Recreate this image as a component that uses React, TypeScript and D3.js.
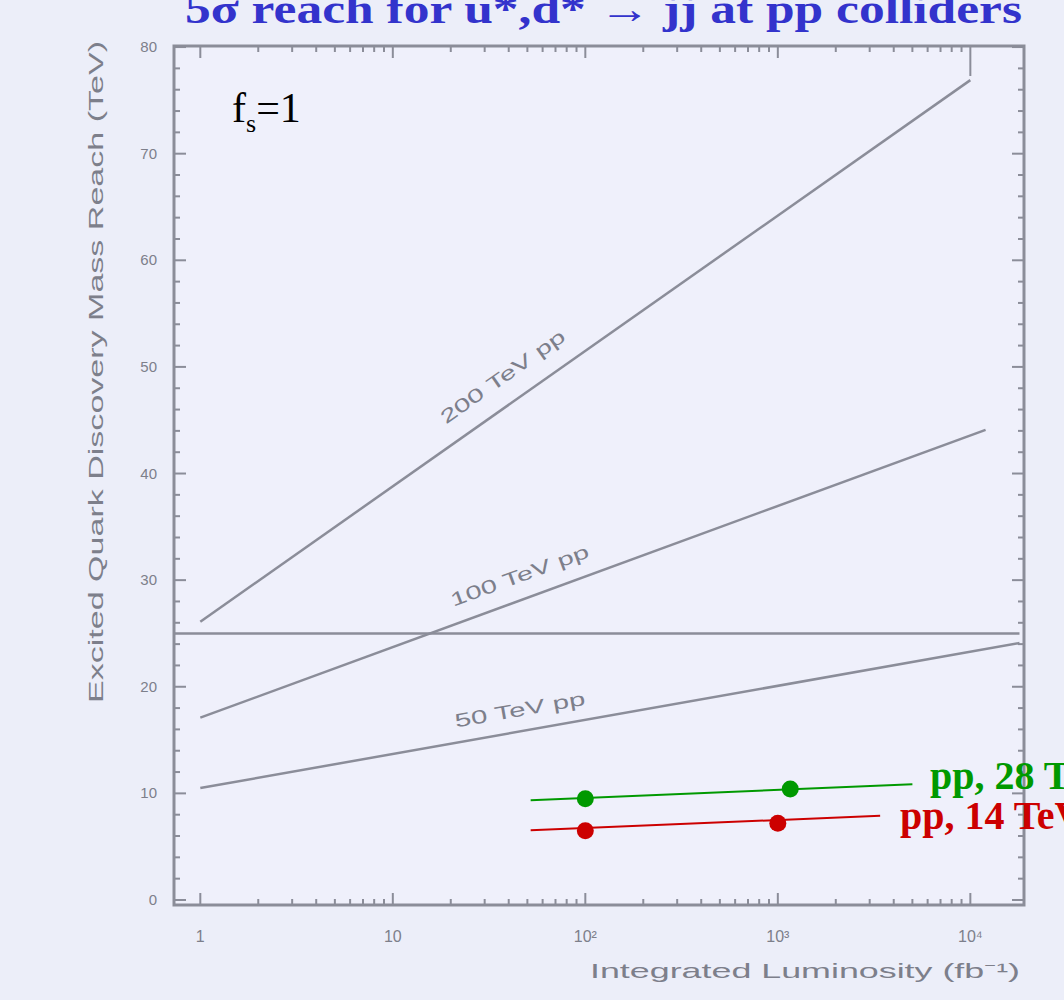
import React, { useEffect, useRef } from 'react';
import * as d3 from 'd3';

// reach lines (luminosity in fb^-1, mass reach in TeV)
const lumi200 = [1, 10000];
const reach200 = [26.1, 76.9];
const lumi100 = [1, 12000];
const reach100 = [17.1, 44.1];
const lumi50 = [1, 18000];
const reach50 = [10.5, 24.1];
const lumiFlat = [0.73, 18000];
const reachFlat = [25.0, 25.0];

const lumi28Line = [52, 5000];
const reach28Line = [9.35, 10.85];
const lumi28Pts = [100, 1160];
const reach28Pts = [9.5, 10.4];

const lumi14Line = [52, 3400];
const reach14Line = [6.55, 7.9];
const lumi14Pts = [100, 1000];
const reach14Pts = [6.5, 7.2];

const xTicks = [1, 10, 100, 1000, 10000];
const xTickLabels = ['1', '10', '10²', '10³', '10⁴'];
const yTicks = [0, 10, 20, 30, 40, 50, 60, 70, 80];

const W = 1064;
const H = 1000;
const bg = '#eceef9';
const gray = '#8b8d99';
const textGray = '#7d7f8b';

function App() {
  const ref = useRef(null);

  useEffect(() => {
    document.body.style.margin = '0';
    const svg = d3.select(ref.current);
    svg.selectAll('*').remove();

    const left = 174, right = 1024, top = 46, bottom = 905;
    const x = d3.scaleLog().domain([0.73, 19000]).range([left, right]);
    const y = d3.scaleLinear().domain([-0.47, 80.1]).range([bottom, top]);

    svg.append('rect').attr('width', W).attr('height', H).attr('fill', bg);

    // frame
    svg.append('rect')
      .attr('x', left).attr('y', top)
      .attr('width', right - left).attr('height', bottom - top)
      .attr('fill', '#eff0fb')
      .attr('stroke', gray).attr('stroke-width', 3);

    // y ticks, left and right, inward
    const g = svg.append('g').attr('stroke', gray);
    d3.range(0, 81, 2).forEach(v => {
      const len = v % 10 === 0 ? 12 : 6;
      g.append('line').attr('x1', left).attr('x2', left + len)
        .attr('y1', y(v)).attr('y2', y(v)).attr('stroke-width', 2);
      g.append('line').attr('x1', right).attr('x2', right - len)
        .attr('y1', y(v)).attr('y2', y(v)).attr('stroke-width', 2);
    });
    // x ticks, top and bottom
    [1, 10, 100, 1000].forEach(d => {
      d3.range(1, 10).forEach(m => {
        const v = d * m;
        const len = m === 1 ? 12 : 6;
        g.append('line').attr('x1', x(v)).attr('x2', x(v))
          .attr('y1', bottom).attr('y2', bottom - len).attr('stroke-width', 2);
        g.append('line').attr('x1', x(v)).attr('x2', x(v))
          .attr('y1', top).attr('y2', top + len).attr('stroke-width', 2);
      });
    });
    g.append('line').attr('x1', x(10000)).attr('x2', x(10000))
      .attr('y1', bottom).attr('y2', bottom - 12).attr('stroke-width', 2);
    g.append('line').attr('x1', x(10000)).attr('x2', x(10000))
      .attr('y1', top).attr('y2', top + 30).attr('stroke-width', 2);

    // tick labels
    svg.append('g').selectAll('text').data(yTicks).enter().append('text')
      .attr('x', 157).attr('y', d => y(d) + 5)
      .attr('text-anchor', 'end')
      .attr('font-family', 'Liberation Sans')
      .attr('font-size', 15).attr('fill', textGray)
      .text(d => d);
    svg.append('g').selectAll('text').data(xTicks).enter().append('text')
      .attr('x', d => x(d)).attr('y', 942)
      .attr('text-anchor', 'middle')
      .attr('font-family', 'Liberation Sans')
      .attr('font-size', 16).attr('fill', textGray)
      .text((d, i) => xTickLabels[i]);

    // axis titles
    svg.append('text')
      .attr('transform', 'translate(103,372) rotate(-90)')
      .attr('text-anchor', 'middle')
      .attr('font-family', 'Liberation Sans').attr('font-size', 21)
      .attr('fill', textGray)
      .attr('textLength', 662).attr('lengthAdjust', 'spacingAndGlyphs')
      .text('Excited Quark Discovery Mass Reach (TeV)');
    svg.append('text')
      .attr('x', 805).attr('y', 978)
      .attr('text-anchor', 'middle')
      .attr('font-family', 'Liberation Sans').attr('font-size', 21)
      .attr('fill', textGray)
      .attr('textLength', 430).attr('lengthAdjust', 'spacingAndGlyphs')
      .text('Integrated Luminosity (fb⁻¹)');

    const line = d3.line<[number, number]>().x(d => x(d[0])).y(d => y(d[1]));
    const zip = (a: number[], b: number[]) => a.map((v, i) => [v, b[i]] as [number, number]);

    const grayLines = [
      { l: lumi200, r: reach200, name: '200 TeV pp', at: 1.65, off: 20, len: 148 },
      { l: lumi100, r: reach100, name: '100 TeV pp', at: 1.7, off: 17, len: 146 },
      { l: lumi50, r: reach50, name: '50 TeV pp', at: 1.68, off: 15, len: 132 },
    ];
    svg.append('path').attr('d', line(zip(lumiFlat, reachFlat)))
      .attr('fill', 'none').attr('stroke', gray).attr('stroke-width', 2.5);
    grayLines.forEach(s => {
      svg.append('path').attr('d', line(zip(s.l, s.r)))
        .attr('fill', 'none').attr('stroke', gray).attr('stroke-width', 2.5);
      // label along the line
      const x0 = x(s.l[0]), y0 = y(s.r[0]);
      const x1 = x(s.l[1]), y1 = y(s.r[1]);
      const ang = Math.atan2(y1 - y0, x1 - x0);
      const lx = x(Math.pow(10, s.at));
      const t = (lx - x0) / (x1 - x0);
      const ly = y0 + t * (y1 - y0);
      const px = lx + Math.sin(ang) * s.off;
      const py = ly - Math.cos(ang) * s.off;
      svg.append('text')
        .attr('transform', `translate(${px},${py}) rotate(${(ang * 180) / Math.PI})`)
        .attr('text-anchor', 'middle')
        .attr('font-family', 'Liberation Sans').attr('font-size', 19)
        .attr('fill', textGray)
        .attr('textLength', s.len).attr('lengthAdjust', 'spacingAndGlyphs')
        .text(s.name);
    });

    // overlay lines
    const overlays = [
      { l: lumi28Line, r: reach28Line, pl: lumi28Pts, pr: reach28Pts, c: '#009900', name: 'pp, 28 TeV', tx: 930, ty: 789 },
      { l: lumi14Line, r: reach14Line, pl: lumi14Pts, pr: reach14Pts, c: '#cc0000', name: 'pp, 14 TeV', tx: 900, ty: 829 },
    ];
    overlays.forEach(o => {
      svg.append('path').attr('d', line(zip(o.l, o.r)))
        .attr('fill', 'none').attr('stroke', o.c).attr('stroke-width', 2);
      svg.append('g').selectAll('circle').data(zip(o.pl, o.pr)).enter().append('circle')
        .attr('cx', d => x(d[0])).attr('cy', d => y(d[1])).attr('r', 8.5)
        .attr('fill', o.c);
      svg.append('text')
        .attr('x', o.tx).attr('y', o.ty)
        .attr('font-family', 'Liberation Serif').attr('font-weight', 'bold')
        .attr('font-size', 40).attr('fill', o.c)
        .text(o.name);
    });

    // f_s = 1
    const fs = svg.append('text').attr('x', 232).attr('y', 122)
      .attr('font-family', 'Liberation Serif').attr('font-size', 42).attr('fill', '#000');
    fs.append('tspan').text('f');
    fs.append('tspan').attr('font-size', 26).attr('dy', 10).text('s');
    fs.append('tspan').attr('dy', -10).text('=1');

    // title
    svg.append('text')
      .attr('x', 185).attr('y', 23)
      .attr('font-family', 'Liberation Serif').attr('font-weight', 'bold')
      .attr('font-size', 42).attr('fill', '#3333cc')
      .attr('textLength', 837).attr('lengthAdjust', 'spacingAndGlyphs')
      .text('5σ reach for u*,d* → jj at pp colliders');
  }, []);

  return <svg ref={ref} width={W} height={H} style={{ display: 'block' }} />;
}

export default App;
